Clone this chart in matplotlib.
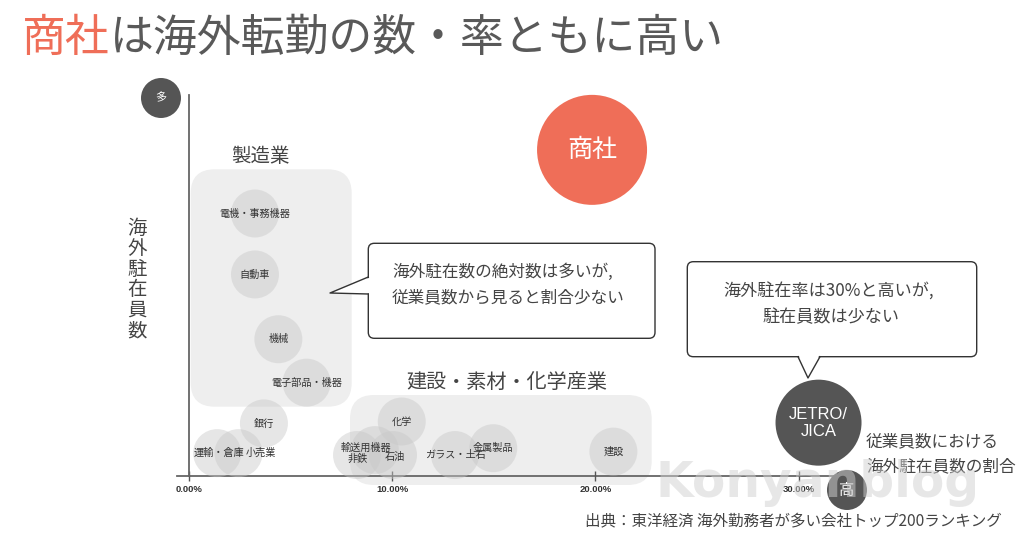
import matplotlib
matplotlib.use('Agg')
import matplotlib.pyplot as plt
from matplotlib.patches import FancyBboxPatch, Polygon

plt.rcParams['font.family'] = ['Noto Sans CJK JP', 'DejaVu Sans']

W, H = 1024, 538

# x: 従業員数における海外駐在員数の割合 (%), y: 海外駐在員数 (relative scale 0-100)
mfg_names = ['電機・事務機器', '自動車', '機械', '電子部品・機器', '銀行', '運輸・倉庫', '小売業']
mfg_x = [3.26, 3.26, 4.41, 5.80, 3.70, 1.40, 2.45]
mfg_y = [68.9, 52.9, 35.9, 24.5, 13.8, 6.0, 6.0]

mat_names = ['化学', '輸送用機器', '非鉄', '石油', 'ガラス・土石', '金属製品', '建設']
mat_x = [10.48, 9.16, 8.28, 10.05, 13.10, 14.98, 20.89]
mat_y = [14.3, 6.8, 5.5, 5.5, 5.5, 7.3, 6.4]

trading_name = '商社'
trading_x, trading_y = 19.84, 85.6
jetro_name = 'JETRO/\nJICA'
jetro_x, jetro_y = 30.98, 14.0

xticks = [0, 10, 20, 30]
xtick_labels = ['0.00%', '10.00%', '20.00%', '30.00%']

# label nudges in pixels (dx, dy down) where the text is not centred on its bubble
label_nudge = {'運輸・倉庫': (2, 0), '小売業': (22, 0), '輸送用機器': (-9, -2), '非鉄': (1, 4), '石油': (2, 2)}

def s_from_radius(r_px):
    d_pt = 2 * r_px * 72 / 100
    return d_pt ** 2

fig = plt.figure(figsize=(W / 100, H / 100), dpi=100)
fig.patch.set_facecolor('white')

# background layer (group boxes), pixel coordinates
bg = fig.add_axes([0, 0, 1, 1], zorder=0)
bg.set_xlim(0, W)
bg.set_ylim(H, 0)
bg.axis('off')

# data layer
x0px, y0px, sx, sy = 188.7, 476, 20.33, 3.81
xmax, ymax = 32, 100
ax = fig.add_axes([x0px / W, (H - y0px) / H, xmax * sx / W, ymax * sy / H], zorder=1)
ax.set_xlim(0, xmax)
ax.set_ylim(0, ymax)
ax.patch.set_visible(False)

# foreground layer (texts, callouts), pixel coordinates
lay = fig.add_axes([0, 0, 1, 1], zorder=2)
lay.set_xlim(0, W)
lay.set_ylim(H, 0)
lay.axis('off')
lay.patch.set_visible(False)

box_c = '#eeeeee'
bg.add_patch(FancyBboxPatch((190.7, 169.3), 161, 237.4,
                            boxstyle='round,pad=0,rounding_size=24', fc=box_c, ec='none'))
bg.add_patch(FancyBboxPatch((350, 395), 301.7, 90,
                            boxstyle='round,pad=0,rounding_size=24', fc=box_c, ec='none'))

# axes
for sp in ['top', 'right', 'bottom']:
    ax.spines[sp].set_visible(False)
ax.spines['left'].set_color('#666666')
ax.spines['left'].set_linewidth(1.3)
ax.plot([-0.6, 31.8], [0, 0], color='#666666', lw=1.3, clip_on=False, zorder=1)
ax.set_yticks([])
ax.set_xticks(xticks)
ax.set_xticklabels(xtick_labels, fontfamily='Liberation Sans', fontweight='bold')
ax.tick_params(axis='x', direction='inout', length=6.5, width=1, color='#555555',
               pad=3.5, labelsize=6.8, labelcolor='#333333')

# bubbles
bub_s = s_from_radius(24)
ax.scatter(mfg_x + mat_x, mfg_y + mat_y, s=bub_s, color='#c8c8c8', alpha=0.45,
           edgecolors='none', clip_on=False, zorder=2)
for name, x, y in zip(mfg_names + mat_names, mfg_x + mat_x, mfg_y + mat_y):
    dx, dy = label_nudge.get(name, (0, 0))
    ax.annotate(name, (x, y), xytext=(dx * 0.72, -dy * 0.72), textcoords='offset points',
                ha='center', va='center', fontsize=7.3, color='#333333', zorder=3)

ax.scatter([trading_x], [trading_y], s=s_from_radius(55), color='#ef6e58',
           edgecolors='none', clip_on=False, zorder=2)
ax.text(trading_x, trading_y, trading_name, ha='center', va='center', fontsize=18,
        color='white', zorder=3)
ax.scatter([jetro_x], [jetro_y], s=s_from_radius(43), color='#555555',
           edgecolors='none', clip_on=False, zorder=2)
ax.text(jetro_x, jetro_y, jetro_name, ha='center', va='center', fontsize=12,
        color='white', family='Liberation Sans', linespacing=1.15, zorder=3)

# axis end markers
lay.scatter([161, 847], [98, 490], s=s_from_radius(20), color='#555555', edgecolors='none', zorder=2)
lay.text(161, 98, '多', ha='center', va='center', fontsize=8, color='white', zorder=3)
lay.text(847, 490, '高', ha='center', va='center', fontsize=11, color='white', zorder=3)

# title
t1 = lay.text(22, 38, '商社', ha='left', va='center', fontsize=31.6, color='#ef6e58')
fig.canvas.draw()
bb = t1.get_window_extent()
xe = lay.transData.inverted().transform((bb.x1, bb.y0))[0]
lay.text(xe, 38, 'は海外転勤の数・率ともに高い', ha='left', va='center', fontsize=31.6, color='#595959')

# axis labels
txt_c = '#444444'
for i, ch in enumerate('海外駐在員数'):
    lay.text(137, 228 + i * 20.6, ch, ha='center', va='center', fontsize=14, color=txt_c)
lay.text(866, 442, '従業員数における', ha='left', va='center', fontsize=12, color=txt_c)
lay.text(866, 467, '海外駐在員数の割合', ha='left', va='center', fontsize=12, color=txt_c)

# group titles
lay.text(260, 157, '製造業', ha='center', va='center', fontsize=14, color=txt_c)
lay.text(507, 382, '建設・素材・化学産業', ha='center', va='center', fontsize=14.5, color=txt_c)

# callouts
def callout(x0, y0, x1, y1, b1, b2, tip, inner):
    lay.add_patch(FancyBboxPatch((x0, y0), x1 - x0, y1 - y0,
                                 boxstyle='round,pad=0,rounding_size=6',
                                 fc='white', ec='#333333', lw=1, zorder=4))
    lay.add_patch(Polygon([inner[0], tip, inner[1]], closed=True, fc='white', ec='none', zorder=5))
    lay.plot([b1[0], tip[0], b2[0]], [b1[1], tip[1], b2[1]], color='#333333', lw=1, zorder=6)

callout(368.3, 243.3, 655, 338.3, (368.3, 277), (368.3, 294), (330, 293),
        [(370, 277.5), (370, 293.5)])
lay.text(392, 272, '海外駐在数の絶対数は多いが,', ha='left', va='center', fontsize=12, color=txt_c, zorder=7)
lay.text(392, 298, '従業員数から見ると割合少ない', ha='left', va='center', fontsize=12, color=txt_c, zorder=7)

callout(687.3, 261.7, 976.7, 356.7, (798, 356.7), (820, 356.7), (808, 378),
        [(798.5, 355), (819.5, 355)])
lay.text(829, 292, '海外駐在率は30%と高いが,', ha='center', va='center', fontsize=12.3, color=txt_c, zorder=7)
lay.text(831, 317, '駐在員数は少ない', ha='center', va='center', fontsize=12.3, color=txt_c, zorder=7)

# source
lay.text(585, 522, '出典：東洋経済 海外勤務者が多い会社トップ200ランキング', ha='left', va='center',
         fontsize=11.2, color=txt_c)

# watermark
lay.text(655, 497, 'Konyanblog', ha='left', va='baseline', fontsize=35, fontweight='bold',
         family='DejaVu Sans', color='#d0d0d0', alpha=0.5, zorder=8)

fig.savefig('out.png', dpi=100)
